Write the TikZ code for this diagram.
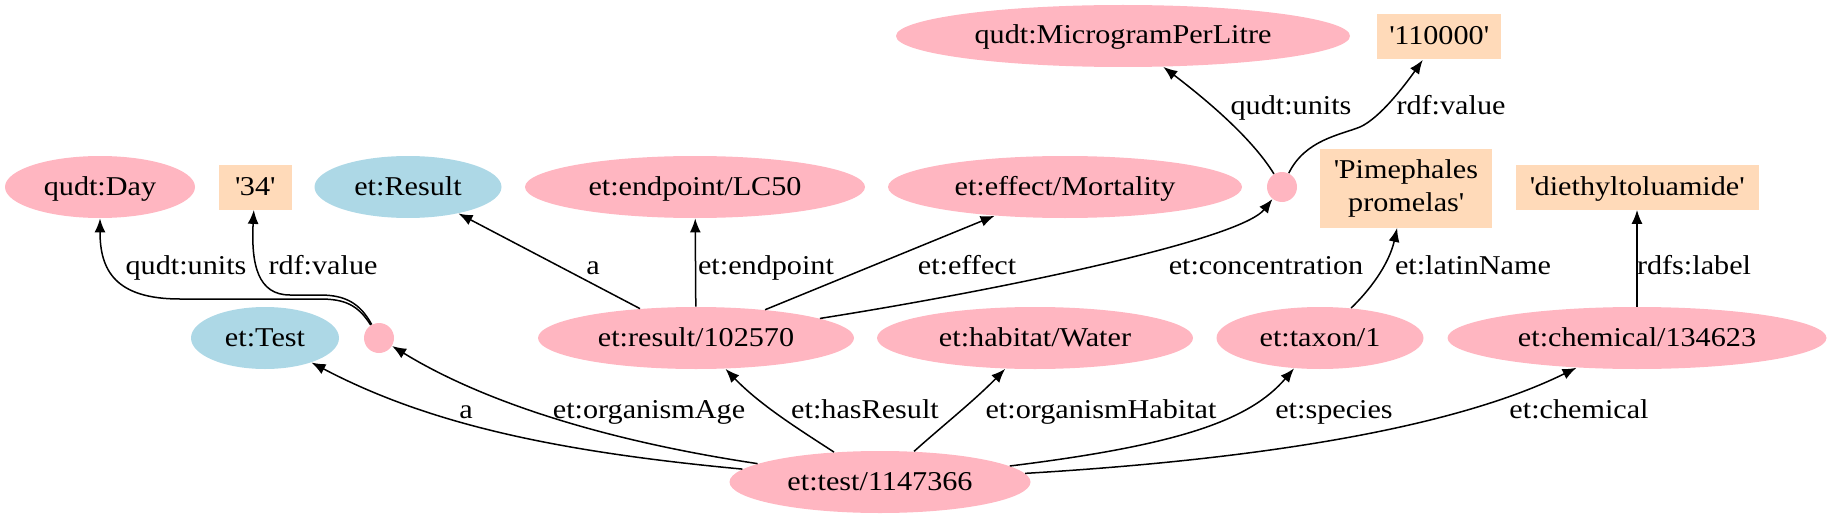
\documentclass[tikz,border=0pt]{standalone}
\usepackage{fontspec}
\setmainfont{Liberation Serif}[FakeStretch=1.11]
\usetikzlibrary{shapes.geometric,arrows.meta}
\definecolor{lpink}{HTML}{FFB6C1}
\definecolor{lblue}{HTML}{ADD8E6}
\definecolor{peach}{HTML}{FFDAB9}
\begin{document}
\begin{tikzpicture}[x=0.5pt,y=-0.5pt,
  every node/.style={font=\rmfamily\fontsize{13.6pt}{16.5pt}\selectfont},
  ell/.style={ellipse, inner sep=0pt, minimum height=31pt, text height=10pt, text depth=2pt},
  pk/.style={ell, fill=lpink},
  bl/.style={ell, fill=lblue},
  blank/.style={circle, fill=lpink, inner sep=0pt, minimum size=15pt},
  lit/.style={rectangle, fill=peach, inner sep=0pt, minimum height=22.5pt, text height=10pt, text depth=2pt},
  lbl/.style={anchor=base, inner sep=0pt},
  conn/.style={line width=0.75pt, -{Latex[length=7pt,width=5.5pt]}}
]
\useasboundingbox (0,0) rectangle (1830,519);
% nodes
\node[pk, minimum width=227pt] (mpl) at (1123,36) {qudt:MicrogramPerLitre};
\node[lit, minimum width=62pt] (v110) at (1439,37) {\textquotesingle110000\textquotesingle};
\node[pk, minimum width=95pt] (day) at (100,187) {qudt:Day};
\node[lit, minimum width=36.5pt] (v34) at (255,187) {\textquotesingle34\textquotesingle};
\node[bl, minimum width=93.5pt] (rescls) at (408,187) {et:Result};
\node[pk, minimum width=170pt] (endp) at (695,187) {et:endpoint/LC50};
\node[pk, minimum width=177pt] (eff) at (1065,187) {et:effect/Mortality};
\node[blank] (b2) at (1282,187) {};
\node[rectangle, fill=peach, inner sep=0pt, minimum width=86pt, minimum height=39.5pt, align=center] (pime) at (1406,188) {\textquotesingle Pimephales\\promelas\textquotesingle};
\node[lit, minimum width=121.5pt] (dtl) at (1637,187) {\textquotesingle diethyltoluamide\textquotesingle};
\node[bl, minimum width=74pt] (testcls) at (265,338) {et:Test};
\node[blank] (b1) at (379,338) {};
\node[pk, minimum width=158pt] (res) at (696,338) {et:result/102570};
\node[pk, minimum width=158pt] (hab) at (1035,338) {et:habitat/Water};
\node[pk, minimum width=103.5pt] (tax) at (1320,338) {et:taxon/1};
\node[pk, minimum width=189.5pt] (chem) at (1637,338) {et:chemical/134623};
\node[pk, minimum width=150.5pt] (test) at (880,482) {et:test/1147366};
% edges from test
\draw[conn] (test) .. controls (560,452) and (430,425) .. (testcls);
\draw[conn] (test) .. controls (600,440) and (480,400) .. (b1);
\draw[conn] (test) .. controls (800,430) and (760,405) .. (res);
\draw[conn] (test) .. controls (940,428) and (975,400) .. (hab);
\draw[conn] (test) .. controls (1180,445) and (1250,420) .. (tax);
\draw[conn] (test) .. controls (1250,460) and (1450,430) .. (chem);
% edges from result
\draw[conn] (res) -- (rescls);
\draw[conn] (res) -- (endp);
\draw[conn] (res) -- (eff);
\draw[conn] (res) .. controls (1000,290) and (1240,240) .. (b2);
% blank 1
\draw[conn] (b1) .. controls (358,305) and (345,299) .. (320,299) -- (180,299) .. controls (115,299) and (100,270) .. (day);
\draw[conn] (b1) .. controls (360,303) and (345,295) .. (320,295) -- (290,295) .. controls (258,295) and (251,265) .. (v34);
% blank 2
\draw[conn] (b2) .. controls (1250,135) and (1200,95) .. (mpl);
\draw[conn] (b2) .. controls (1305,140) and (1340,135) .. (1360,127) .. controls (1380,118) and (1405,85) .. (v110);
% taxon, chemical
\draw[conn] (tax) .. controls (1375,285) and (1390,260) .. (pime);
\draw[conn] (chem) -- (dtl);
% labels
\node[lbl] (l1) at (1291,115) {qudt:units};
\node[lbl] (l2) at (1451,115) {rdf:value};
\node[lbl] (l3) at (186,274) {qudt:units};
\node[lbl] (l4) at (323,274) {rdf:value};
\node[lbl] (l5) at (593,274) {a};
\node[lbl] (l6) at (766,274) {et:endpoint};
\node[lbl] (l7) at (967,274) {et:effect};
\node[lbl] (l8) at (1266,274) {et:concentration};
\node[lbl] (l9) at (1473,274) {et:latinName};
\node[lbl] (l10) at (1694,274) {rdfs:label};
\node[lbl] (l11) at (466,418) {a};
\node[lbl] (l12) at (649,418) {et:organismAge};
\node[lbl] (l13) at (865,418) {et:hasResult};
\node[lbl] (l14) at (1101,418) {et:organismHabitat};
\node[lbl] (l15) at (1334,418) {et:species};
\node[lbl] (l16) at (1579,418) {et:chemical};
\end{tikzpicture}
\end{document}
